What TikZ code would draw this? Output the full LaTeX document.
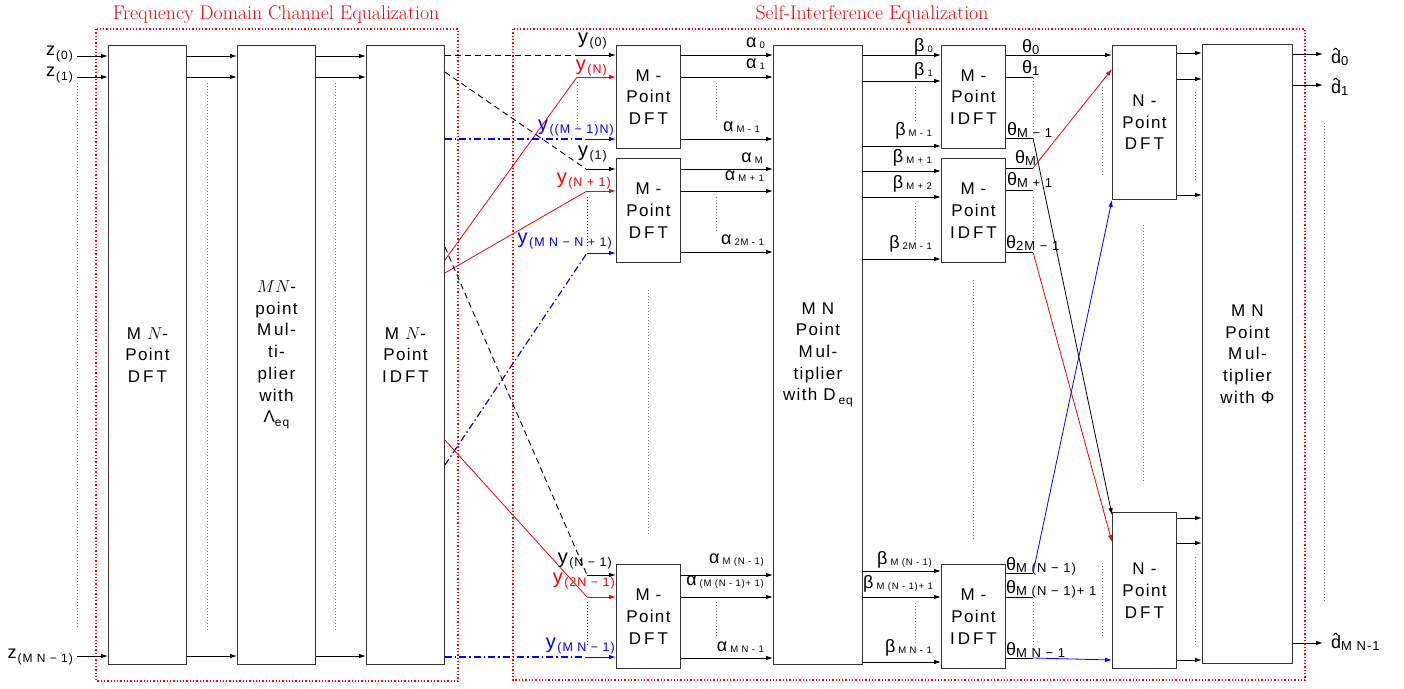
\documentclass[tikz,border=0pt]{standalone}
\usepackage{fontspec}
\newfontfamily\hv[LetterSpace=8]{Liberation Sans}
\usetikzlibrary{arrows.meta}
\definecolor{pblue}{RGB}{0,0,255}
\newcommand\sbs[3]{\raisebox{#1}{\fontsize{#2}{#2}\selectfont #3}}
\newcommand\Ylab[1]{{\fontsize{20}{20}\selectfont y}\kern1.5pt\sbs{-3pt}{12.5}{#1}}
\newcommand\Glab[2]{#1\kern3pt\sbs{-1pt}{9.5}{#2}}
\newcommand\Tlab[1]{θ\sbs{-2pt}{13}{#1}}
\newcommand\Dlab[1]{\rlap{\kern1.6pt\raisebox{1.5pt}{ˆ}}d\sbs{-2pt}{13}{#1}}
\newcommand\Zlab[1]{z\kern1pt\sbs{-4pt}{12}{#1}}
\newcommand\DFTt{D\kern3pt F\kern3pt T}
\newcommand\IDFTt{I\kern3pt D\kern3pt F\kern3pt T}
\begin{document}
\begin{tikzpicture}[x=1pt,y=-1pt,
  blk/.style={draw=black!80, line width=0.9pt, fill=white, inner sep=0pt, anchor=north west, align=center, font=\hv\fontsize{17}{21.7}\selectfont},
  arr/.style={line width=0.9pt, -{Latex[length=7pt,width=4.5pt]}},
  ln/.style={line width=0.9pt},
  cln/.style={line width=0.8pt},
  frm/.style={red, line width=1.3pt, dash pattern=on 1.3pt off 2pt},
  vd/.style={black!55, line width=0.8pt, dash pattern=on 0.8pt off 2.2pt},
  bk/.style={black, line width=0.9pt, dash pattern=on 6pt off 4pt},
  bdd/.style={draw=pblue, line width=1.2pt, dash pattern=on 7pt off 3pt on 1.5pt off 3pt},
  lab/.style={inner sep=0pt, font=\hv\fontsize{18}{18}\selectfont},
  ttl/.style={red, inner sep=0pt, font=\fontsize{19.8}{22}\selectfont, anchor=base}]
\useasboundingbox (0,0) rectangle (1404,688);

% frames and titles
\draw[frm] (96,29) rectangle (458,681);
\draw[frm] (513,29) rectangle (1305,680);
\node[ttl] (t1) at (276,19) {Frequency Domain Channel Equalization};
\node[ttl] (t2) at (872,19) {Self-Interference Equalization};

% FDE blocks
\node[blk, minimum width=78pt, minimum height=619pt] (fd1) at (108,45) {M $N$-\\Point\\\DFTt};
\node[blk, minimum width=78pt, minimum height=619pt] (fd2) at (237,45) {$MN$-\\point\\M\,ul-\\ti-\\plier\\with\\Λ\sbs{-4pt}{12}{eq}};
\node[blk, minimum width=78pt, minimum height=619pt] (fd3) at (366,45) {M $N$-\\Point\\\IDFTt};

% SIE blocks
\node[blk, minimum width=64pt, minimum height=103pt] (dA) at (616,45) {M -\\Point\\\DFTt};
\node[blk, minimum width=64pt, minimum height=104pt] (dB) at (616,158) {M -\\Point\\\DFTt};
\node[blk, minimum width=64pt, minimum height=104pt] (dC) at (616,564) {M -\\Point\\\DFTt};
\node[blk, minimum width=89pt, minimum height=619pt] (mD) at (773,45) {M N\\Point\\M\,ul-\\tiplier\\with D\,\sbs{-4pt}{12}{eq}};
\node[blk, minimum width=64pt, minimum height=103pt] (iA) at (941,45) {M -\\Point\\\IDFTt};
\node[blk, minimum width=64pt, minimum height=104pt] (iB) at (941,158) {M -\\Point\\\IDFTt};
\node[blk, minimum width=64pt, minimum height=104pt] (iC) at (941,564) {M -\\Point\\\IDFTt};
\node[blk, minimum width=64pt, minimum height=154pt] (nA) at (1112,45) {N -\\Point\\\DFTt};
\node[blk, minimum width=64pt, minimum height=156pt] (nB) at (1112,512) {N -\\Point\\\DFTt};
\node[blk, minimum width=90pt, minimum height=619pt] (mP) at (1202,44) {M N\\Point\\M\,ul-\\tiplier\\with Φ};

% FDE inputs and arrows
\coordinate (zi0) at (77,56);
\coordinate (zi1) at (77,77);
\coordinate (zi2) at (77,656);
\foreach \c in {zi0,zi1,zi2} {
  \draw[arr] (\c) -- (\c -| fd1.west);
  \draw[arr] (fd1.east |- \c) -- (fd2.west |- \c);
  \draw[arr] (fd2.east |- \c) -- (fd3.west |- \c);
}
\draw[vd] (77,83) -- (77,628);
\draw[vd] (207,83) -- (207,632);
\draw[vd] (335,83) -- (335,632);

\node[lab, anchor=base east] (lz0) at (73,55) {\Zlab{(0)}};
\node[lab, anchor=base east] (lz1) at (73,76) {\Zlab{(1)}};
\node[lab, anchor=base east] (lz2) at (73,658) {\Zlab{(M N − 1)}};

% interconnect fd3 -> DFT blocks
\coordinate (p1) at (575,55);
\draw[bk] (fd3.east |- p1) -- (p1);
\draw[arr] (p1) -- (p1 -| dA.west);
\coordinate (p2) at (577,77);
\draw[cln, red] (fd3.east |- 0,260) -- (p2);
\draw[arr, red] (p2) -- (p2 -| dA.west);
\coordinate (p3) at (585,139);
\draw[bdd] (fd3.east |- p3) -- (p3);
\draw[arr, pblue] (p3) -- (p3 -| dA.west);
\coordinate (p4) at (586,169);
\draw[bk] (fd3.east |- 0,72) -- (p4);
\draw[arr] (p4) -- (p4 -| dB.west);
\coordinate (p5) at (587,191);
\draw[cln, red] (fd3.east |- 0,273) -- (p5);
\draw[arr, red] (p5) -- (p5 -| dB.west);
\coordinate (p6) at (587,253);
\draw[bdd] (fd3.east |- 0,465) -- (p6);
\draw[arr, pblue] (p6) -- (p6 -| dB.west);
\coordinate (p7) at (587,575);
\draw[bk] (fd3.east |- 0,247) -- (p7);
\draw[arr] (p7) -- (p7 -| dC.west);
\coordinate (p8) at (587,597);
\draw[cln, red] (fd3.east |- 0,440) -- (p8);
\draw[arr, red] (p8) -- (p8 -| dC.west);
\coordinate (p9) at (585,657);
\draw[bdd] (fd3.east |- p9) -- (p9);
\draw[arr, pblue] (p9) -- (p9 -| dC.west);

\draw[vd] (577,82) -- (577,130);
\draw[vd, black] (587,197) -- (587,248);
\draw[vd, black] (587,602) -- (587,645);
\draw[vd] (648,290) -- (648,536);

\node[lab, anchor=base east] (ly0) at (607,43) {\Ylab{(0)}};
\node[lab, anchor=base east, red] (ly1) at (607,70) {\Ylab{(N)}};
\node[lab, anchor=base east, pblue] (ly2) at (614,130) {\Ylab{((M − 1)N)}};
\node[lab, anchor=base east] (ly3) at (607,156) {\Ylab{(1)}};
\node[lab, anchor=base east, red] (ly4) at (611,183) {\Ylab{(N + 1)}};
\node[lab, anchor=base east, pblue] (ly5) at (612,243) {\Ylab{(M N − N + 1)}};
\node[lab, anchor=base east] (ly6) at (612,563) {\Ylab{(N − 1)}};
\node[lab, anchor=base east, red] (ly7) at (615,583) {\Ylab{(2N − 1)}};
\node[lab, anchor=base east, pblue] (ly8) at (615,648) {\Ylab{(M N − 1)}};

% alpha arrows
\foreach \y in {55,77,139} \draw[arr] (dA.east |- 0,\y) -- (mD.west |- 0,\y);
\foreach \y in {169,191,252} \draw[arr] (dB.east |- 0,\y) -- (mD.west |- 0,\y);
\foreach \y in {575,597,658} \draw[arr] (dC.east |- 0,\y) -- (mD.west |- 0,\y);
\draw[vd] (716,83) -- (716,120);
\draw[vd] (716,197) -- (716,232);
\draw[vd] (716,602) -- (716,638);

\node[lab, anchor=base east] (la0) at (765,47) {\Glab{α}{0}};
\node[lab, anchor=base east] (la1) at (765,68) {\Glab{α}{1}};
\node[lab, anchor=base east] (la2) at (760,131) {\Glab{α}{M - 1}};
\node[lab, anchor=base east] (la3) at (763,162) {\Glab{α}{M}};
\node[lab, anchor=base east] (la4) at (764,180) {\Glab{α}{M + 1}};
\node[lab, anchor=base east] (la5) at (764,244) {\Glab{α}{2M - 1}};
\node[lab, anchor=base east] (la6) at (764,563) {\Glab{α}{M (N - 1)}};
\node[lab, anchor=base east] (la7) at (764,585) {\Glab{α}{(M (N - 1)+ 1)}};
\node[lab, anchor=base east] (la8) at (764,651) {\Glab{α}{M N - 1}};

% beta arrows
\foreach \y in {55,81,146} \draw[arr] (mD.east |- 0,\y) -- (iA.west |- 0,\y);
\foreach \y in {171,197,259} \draw[arr] (mD.east |- 0,\y) -- (iB.west |- 0,\y);
\foreach \y in {571,597,662} \draw[arr] (mD.east |- 0,\y) -- (iC.west |- 0,\y);
\draw[vd] (915,87) -- (915,123);
\draw[vd] (915,203) -- (915,240);
\draw[vd] (915,603) -- (915,643);
\draw[vd] (973,280) -- (973,540);

\node[lab, anchor=base east] (lb0) at (933,51) {\Glab{β}{0}};
\node[lab, anchor=base east] (lb1) at (933,75) {\Glab{β}{1}};
\node[lab, anchor=base east] (lb2) at (932,135) {\Glab{β}{M - 1}};
\node[lab, anchor=base east] (lb3) at (932,162) {\Glab{β}{M + 1}};
\node[lab, anchor=base east] (lb4) at (932,188) {\Glab{β}{M + 2}};
\node[lab, anchor=base east] (lb5) at (932,248) {\Glab{β}{2M - 1}};
\node[lab, anchor=base east] (lb6) at (932,564) {\Glab{β}{M (N - 1)}};
\node[lab, anchor=base east] (lb7) at (933,588) {\Glab{β}{M (N - 1)+ 1}};
\node[lab, anchor=base east] (lb8) at (932,652) {\Glab{β}{M N - 1}};

% theta outputs
\draw[arr] (iA.east |- 0,55) -- (nA.west |- 0,55);
\coordinate (q1) at (1033,77);
\draw[ln] (iA.east |- q1) -- (q1);
\coordinate (q2) at (1033,138);
\draw[ln] (iA.east |- q2) -- (q2);
\draw[arr, line width=0.8pt] (q2) -- (nB.west |- 0,515);
\coordinate (q3) at (1033,168);
\draw[ln] (iB.east |- q3) -- (q3);
\draw[arr, red, line width=0.8pt] (q3) -- (nA.west |- 0,69);
\coordinate (q4) at (1033,190);
\draw[ln] (iB.east |- q4) -- (q4);
\coordinate (q5) at (1033,252);
\draw[ln] (iB.east |- q5) -- (q5);
\draw[arr, red, line width=0.8pt] (q5) -- (nB.west |- 0,542);
\coordinate (q6) at (1033,573);
\draw[ln] (iC.east |- q6) -- (q6);
\draw[arr, pblue, line width=0.8pt] (q6) -- (nA.south west);
\coordinate (q7) at (1033,597);
\draw[ln] (iC.east |- q7) -- (q7);
\coordinate (q8) at (1033,658);
\draw[ln] (iC.east |- q8) -- (q8);
\draw[arr, pblue, line width=0.8pt] (q8) -- (nB.west |- 0,660);
\draw[vd] (1033,78) -- (1033,130);
\draw[vd] (1033,197) -- (1033,247);
\draw[vd] (1033,602) -- (1033,645);
\draw[vd] (1102,87) -- (1102,175);
\draw[vd] (1102,563) -- (1102,637);
\draw[vd] (1143,225) -- (1143,483);

\node[lab, anchor=base west] (lt0) at (1022,52) {\Tlab{0}};
\node[lab, anchor=base west] (lt1) at (1022,73) {\Tlab{1}};
\node[lab, anchor=base west] (lt2) at (1007,135) {\Tlab{M − 1}};
\node[lab, anchor=base west] (lt3) at (1015,163) {\Tlab{M}};
\node[lab, anchor=base west] (lt4) at (1007,185) {\Tlab{M + 1}};
\node[lab, anchor=base west] (lt5) at (1006,248) {\Tlab{2M − 1}};
\node[lab, anchor=base west] (lt6) at (1006,570) {\Tlab{M (N − 1)}};
\node[lab, anchor=base west] (lt7) at (1006,593) {\Tlab{M (N − 1)+ 1}};
\node[lab, anchor=base west] (lt8) at (1006,655) {\Tlab{M N − 1}};

% N-DFT outputs
\foreach \y in {53,79,195} \draw[arr] (nA.east |- 0,\y) -- (mP.west |- 0,\y);
\foreach \y in {518,543,660} \draw[arr] (nB.east |- 0,\y) -- (mP.west |- 0,\y);
\draw[vd] (1195,92) -- (1195,180);
\draw[vd] (1195,557) -- (1195,645);

% final outputs
\coordinate (o0) at (1323,54);
\coordinate (o1) at (1323,85);
\coordinate (o2) at (1323,643);
\foreach \c in {o0,o1,o2} \draw[arr] (mP.east |- \c) -- (\c);
\draw[vd] (1324,123) -- (1324,602);
\node[lab, anchor=base west] (ld0) at (1331,63) {\Dlab{0}};
\node[lab, anchor=base west] (ld1) at (1331,93) {\Dlab{1}};
\node[lab, anchor=base west] (ld2) at (1331,648) {\Dlab{M N-1}};
\end{tikzpicture}
\end{document}
